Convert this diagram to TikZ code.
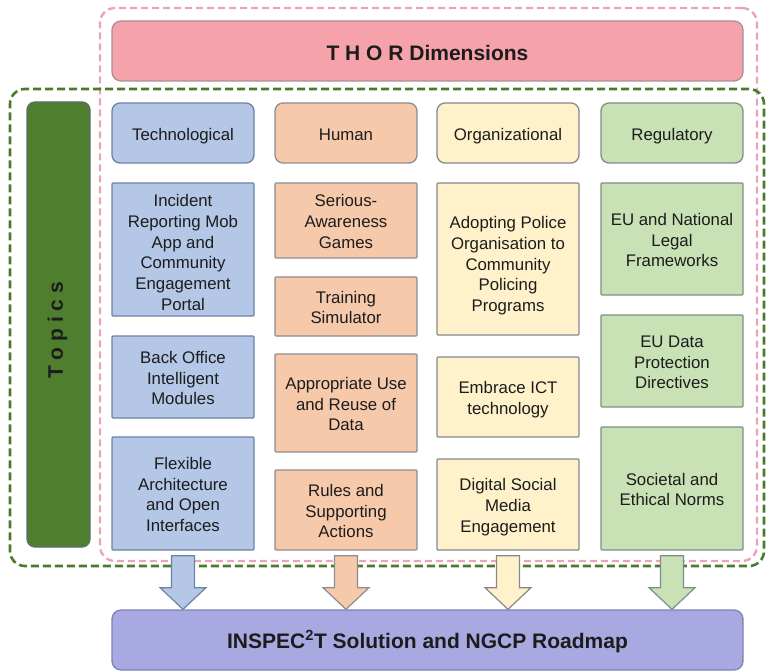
\documentclass[tikz,border=0pt]{standalone}
\usepackage{fontspec}
\setmainfont{Liberation Sans}
\usetikzlibrary{calc}
\definecolor{txt}{HTML}{1C1C1C}
\definecolor{thorfill}{HTML}{F5A2AB}
\definecolor{thordraw}{HTML}{A88E96}
\definecolor{techfill}{HTML}{B4C7E7}
\definecolor{techdraw}{HTML}{6C82A6}
\definecolor{humfill}{HTML}{F7C9AB}
\definecolor{humdraw}{HTML}{8E8C8E}
\definecolor{orgfill}{HTML}{FFF1C9}
\definecolor{orgdraw}{HTML}{86888E}
\definecolor{regfill}{HTML}{C8E2B6}
\definecolor{regdraw}{HTML}{7E8E86}
\definecolor{topfill}{HTML}{4F7E2E}
\definecolor{topdraw}{HTML}{56706A}
\definecolor{botfill}{HTML}{A9A9E1}
\definecolor{botdraw}{HTML}{7E80B6}
\definecolor{pinkd}{HTML}{ECA4B4}
\definecolor{greend}{HTML}{4A7A2A}
\newcommand\tx[2][-3pt]{\raisebox{#1}[\height][\depth]{\begin{tabular}{@{}c@{}}#2\end{tabular}}}
\begin{document}
\begin{tikzpicture}[x=1pt,y=-1pt,
  base/.style={draw, line width=1.3pt, align=center, inner sep=0pt, text=txt,
    font=\fontsize{16.8}{20.7}\selectfont, minimum width=142},
  hdr/.style={base, rounded corners=8pt, minimum height=60},
  cbox/.style={base, rounded corners=1pt},
  tech/.style={fill=techfill, draw=techdraw},
  hum/.style={fill=humfill, draw=humdraw},
  org/.style={fill=orgfill, draw=orgdraw},
  reg/.style={fill=regfill, draw=regdraw},
  banner/.style={draw, line width=1.3pt, rounded corners=9pt, inner sep=0pt,
    text=txt, font=\fontsize{21}{25}\bfseries\selectfont},
  frame/.style={draw, rounded corners=15pt, inner sep=0pt, fill=none},
  barrow/.style={draw=#1, line width=1.2pt},
]
\useasboundingbox (0,0) rectangle (766,671);

% dashed frames
\node[frame, draw=pinkd, line width=2.4pt, dash pattern=on 7pt off 4pt,
  minimum width=657, minimum height=553] (pinkframe) at (428.5,284.5) {};
\node[frame, draw=greend, line width=2.6pt, dash pattern=on 8pt off 4pt,
  minimum width=754, minimum height=477] (greenframe) at (387,327.5) {};

% banners
\node[banner, fill=thorfill, draw=thordraw, minimum width=631, minimum height=60]
  (thor) at (427.5,51) {\raisebox{-1.5pt}[\height][\depth]{T H O R Dimensions}};
\node[banner, fill=botfill, draw=botdraw, minimum width=631, minimum height=60]
  (bot) at (427.5,640) {\raisebox{-1.5pt}[\height][\depth]{INSPEC\textsuperscript{2}T Solution and NGCP Roadmap}};
\node[banner, fill=topfill, draw=topdraw, rounded corners=8pt, minimum width=63,
  minimum height=445] (topics) at (58.5,324.5) {};
\node[rotate=90, text=txt, font=\fontsize{21}{25}\bfseries\selectfont]
  (topicstxt) at ($(topics.center)+(-1,6)$) {T o p i c s};

% headers
\node[hdr, tech] (th) at (183,133) {\tx{Technological}};
\node[hdr, hum]  (hh) at (346,133) {\tx{Human}};
\node[hdr, org]  (oh) at (508,133) {\tx{Organizational}};
\node[hdr, reg]  (rh) at (672,133) {\tx{Regulatory}};

% technological
\node[cbox, tech, minimum height=133] (t1) at (183,249.5)
  {\tx[-5pt]{Incident\\Reporting Mob\\App and\\Community\\Engagement\\Portal}};
\node[cbox, tech, minimum height=82] (t2) at (183,377)
  {\tx{Back Office\\Intelligent\\Modules}};
\node[cbox, tech, minimum height=113] (t3) at (183,493.5)
  {\tx{Flexible\\Architecture\\and Open\\Interfaces}};

% human
\node[cbox, hum, minimum height=75] (h1) at (346,220.5)
  {\tx{Serious-\\Awareness\\Games}};
\node[cbox, hum, minimum height=59] (h2) at (346,306.5)
  {\tx{Training\\Simulator}};
\node[cbox, hum, minimum height=98] (h3) at (346,403)
  {\tx{Appropriate Use\\and Reuse of\\Data}};
\node[cbox, hum, minimum height=80] (h4) at (346,510)
  {\tx{Rules and\\Supporting\\Actions}};

% organizational
\node[cbox, org, minimum height=152] (o1) at (508,259)
  {\tx[-7pt]{Adopting Police\\Organisation to\\Community\\Policing\\Programs}};
\node[cbox, org, minimum height=80] (o2) at (508,397)
  {\tx{Embrace ICT\\technology}};
\node[cbox, org, minimum height=91] (o3) at (508,504.5)
  {\tx{Digital Social\\Media\\Engagement}};

% regulatory
\node[cbox, reg, minimum height=112] (r1) at (672,239)
  {\tx{EU and National\\Legal\\Frameworks}};
\node[cbox, reg, minimum height=92] (r2) at (672,361)
  {\tx{EU Data\\Protection\\Directives}};
\node[cbox, reg, minimum height=123] (r3) at (672,488.5)
  {\tx{Societal and\\Ethical Norms}};

% block arrows
\newcommand\blockarrow[3]{%
  \draw[barrow=#3, fill=#2]
    ($(#1.south)+(-11.5,5)$) -- ($(#1.south)+(11.5,5)$) --
    ($(#1.south)+(11.5,37)$) -- ($(#1.south)+(23,37)$) --
    (#1.south |- bot.north) --
    ($(#1.south)+(-23,37)$) -- ($(#1.south)+(-11.5,37)$) -- cycle;}
\blockarrow{t3}{techfill}{techdraw}
\blockarrow{h4}{humfill}{humdraw}
\blockarrow{o3}{orgfill}{orgdraw}
\blockarrow{r3}{regfill}{regdraw}
\end{tikzpicture}
\end{document}
